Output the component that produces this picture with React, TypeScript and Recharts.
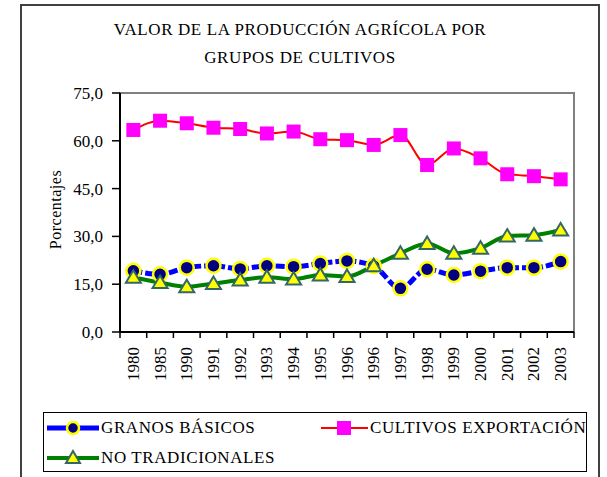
import { LineChart, Line, XAxis, YAxis, ReferenceArea, Label } from "recharts";

const years = [
  "1980", "1985", "1990", "1991", "1992", "1993", "1994", "1995", "1996",
  "1996", "1997", "1998", "1999", "2000", "2001", "2002", "2003",
];
const granosBasicos = [19.2, 18.1, 20.2, 20.8, 19.8, 20.8, 20.5, 21.5, 22.3, 20.7, 13.7, 19.7, 17.9, 19.1, 20.2, 20.2, 22.1];
const cultivosExportacion = [63.4, 66.3, 65.5, 64.1, 63.7, 62.3, 62.9, 60.5, 60.2, 58.7, 61.8, 52.4, 57.6, 54.5, 49.5, 48.9, 47.9];
const noTradicionales = [17.2, 15.5, 14.2, 15.2, 16.3, 17.2, 16.6, 17.9, 17.4, 20.8, 24.7, 27.8, 24.7, 26.3, 30.1, 30.4, 32.0];
const yTicks = [0, 15, 30, 45, 60, 75];

const data = years.map((year, i) => ({
  pos: i + 0.5,
  year,
  granos: granosBasicos[i],
  cultivos: cultivosExportacion[i],
  noTrad: noTradicionales[i],
}));
const xTicks = Array.from({ length: years.length + 1 }, (_, i) => i);

// no serif font in the sandbox, falls back to a sans
const FONT = "'Liberation Serif', 'DejaVu Serif', 'Times New Roman', serif";
const PLOT_LEFT = 120;
const PLOT_RIGHT = 574;
const BAND = (PLOT_RIGHT - PLOT_LEFT) / years.length;

const CircleDot = (p: any) =>
  p.cx == null ? null : (
    <circle key={p.key} cx={p.cx} cy={p.cy} r={7} fill="#000080" stroke="#ffff00" strokeWidth={2.5} />
  );
const SquareDot = (p: any) =>
  p.cx == null ? null : (
    <rect key={p.key} x={p.cx - 7} y={p.cy - 7} width={14} height={14} fill="#ff00ff" />
  );
const TriangleDot = (p: any) =>
  p.cx == null ? null : (
    <path
      key={p.key}
      d={`M${p.cx},${p.cy - 7} L${p.cx + 7.5},${p.cy + 5.5} L${p.cx - 7.5},${p.cy + 5.5} Z`}
      fill="#ffff00"
      stroke="#336666"
      strokeWidth={2}
    />
  );

const XTick = ({ x, y, payload }: any) => {
  const i = payload.value;
  if (i >= years.length) return <g />;
  const cx = x + BAND / 2;
  const ty = y + 7;
  return (
    <text
      x={cx}
      y={ty}
      transform={`rotate(-90, ${cx}, ${ty})`}
      textAnchor="end"
      dominantBaseline="central"
      style={{ fontFamily: FONT, fontSize: 17 }}
      fill="#000"
    >
      {years[i]}
    </text>
  );
};

const YLabel = ({ viewBox }: any) => {
  const cx = 55;
  const cy = viewBox.y + viewBox.height / 2 - 3;
  return (
    <text
      x={cx}
      y={cy}
      transform={`rotate(-90, ${cx}, ${cy})`}
      textAnchor="middle"
      dominantBaseline="central"
      style={{ fontFamily: FONT, fontSize: 16, letterSpacing: 0.5 }}
      fill="#000"
    >
      Porcentajes
    </text>
  );
};

const legendText = { position: "absolute" as const, fontSize: 17, letterSpacing: 0.6, whiteSpace: "nowrap" as const, lineHeight: "20px" };
const titleText = { position: "absolute" as const, left: 100, width: 400, textAlign: "center" as const, fontSize: 17, letterSpacing: 0.6, whiteSpace: "nowrap" as const, lineHeight: "20px" };

export default function App() {
  return (
    <div style={{ position: "absolute", left: 0, top: 0, width: 607, height: 477, overflow: "hidden", background: "#fff", fontFamily: FONT }}>
      <div style={{ position: "absolute", left: 20, top: 4, width: 576, height: 490, border: "2px solid #404040" }} />
      <div style={{ ...titleText, top: 20 }}>VALOR DE LA PRODUCCIÓN AGRÍCOLA POR</div>
      <div style={{ ...titleText, top: 48 }}>GRUPOS DE CULTIVOS</div>

      <div style={{ position: "absolute", left: 0, top: 0 }}>
        <LineChart width={607} height={400} data={data} margin={{ top: 93, right: 607 - PLOT_RIGHT, left: 0, bottom: 8 }}>
          <ReferenceArea x1={0} x2={17} y1={0} y2={75} fill="none" stroke="#808080" strokeWidth={2} ifOverflow="visible" />
          <XAxis
            type="number"
            dataKey="pos"
            domain={[0, 17]}
            ticks={xTicks}
            interval={0}
            height={60}
            axisLine={{ stroke: "#000", strokeWidth: 2 }}
            tickLine={{ stroke: "#000", strokeWidth: 1.5 }}
            tickSize={6}
            tick={<XTick />}
          />
          <YAxis
            domain={[0, 75]}
            ticks={yTicks}
            width={PLOT_LEFT}
            axisLine={{ stroke: "#000", strokeWidth: 2 }}
            tickLine={{ stroke: "#000", strokeWidth: 1.5 }}
            tickSize={8}
            tickMargin={9}
            tickFormatter={(v: number) => v.toFixed(1).replace(".", ",")}
            tick={{ fill: "#000", style: { fontFamily: FONT }, fontSize: 17 }}
          >
            <Label content={<YLabel />} />
          </YAxis>
          <Line type="monotone" dataKey="granos" stroke="#0000ff" strokeWidth={5} strokeDasharray="9 3" dot={CircleDot} isAnimationActive={false} />
          <Line type="monotone" dataKey="cultivos" stroke="#ff0000" strokeWidth={2} dot={SquareDot} isAnimationActive={false} />
          <Line type="monotone" dataKey="noTrad" stroke="#008000" strokeWidth={4} dot={TriangleDot} isAnimationActive={false} />
        </LineChart>
      </div>

      <div style={{ position: "absolute", left: 43, top: 412, width: 542, height: 58, border: "1.5px solid #000", overflow: "hidden" }}>
        <svg style={{ position: "absolute", left: 0, top: 0 }} width={542} height={58}>
          <line x1={3} y1={15} x2={55} y2={15} stroke="#0000ff" strokeWidth={5} />
          <circle cx={29} cy={15} r={6} fill="#000080" stroke="#ffff00" strokeWidth={2.5} />
          <line x1={277} y1={15} x2={324} y2={15} stroke="#ff0000" strokeWidth={2} />
          <rect x={293} y={8} width={14} height={14} fill="#ff00ff" />
          <line x1={3} y1={45} x2={55} y2={45} stroke="#008000" strokeWidth={4} />
          <path d="M29,38 L36,50 L22,50 Z" fill="#ffff00" stroke="#336666" strokeWidth={2} />
        </svg>
        <div style={{ ...legendText, left: 57, top: 5 }}>GRANOS BÁSICOS</div>
        <div style={{ ...legendText, left: 326, top: 5 }}>CULTIVOS EXPORTACIÓN</div>
        <div style={{ ...legendText, left: 57, top: 35 }}>NO TRADICIONALES</div>
      </div>
    </div>
  );
}
